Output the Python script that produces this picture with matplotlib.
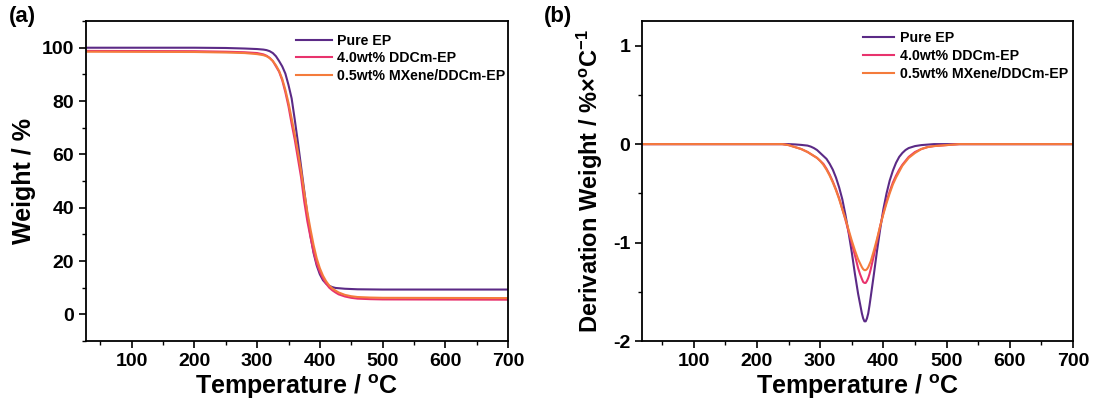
import numpy as np
import matplotlib
matplotlib.use("Agg")
import matplotlib.pyplot as plt
from matplotlib.ticker import MultipleLocator

plt.rcParams['font.family'] = ['Liberation Sans', 'DejaVu Sans']
plt.rcParams['font.weight'] = 'bold'
plt.rcParams['axes.labelweight'] = 'bold'
plt.rcParams['axes.unicode_minus'] = False
plt.rcParams['mathtext.fontset'] = 'custom'
plt.rcParams['mathtext.bf'] = 'Liberation Sans:bold'
plt.rcParams['mathtext.rm'] = 'Liberation Sans:bold'
plt.rcParams['mathtext.default'] = 'bf'

### --- data
labels = ['Pure EP', '4.0wt% DDCm-EP', '0.5wt% MXene/DDCm-EP']
colors = ['#5B2A86', '#E8336D', '#F47B3C']

# (a) TGA
T_tga = [25, 200, 250, 280, 300, 310, 315, 320, 325, 330, 335, 340, 345, 350, 355,
         360, 365, 370, 375, 380, 385, 390, 395, 400, 405, 410, 415, 420, 425, 430,
         440, 450, 460, 480, 500, 700]
w_pure = [100.0, 100.0, 99.9, 99.7, 99.5, 99.3, 99.1, 98.7, 98.0, 96.8, 95.0, 93.0, 90.3, 86.0, 81.0,
          73.0, 64.5, 55.5, 46.5, 37.5, 29.5, 23.0, 18.3, 15.0, 12.8, 11.5, 10.7, 10.2, 9.9, 9.8,
          9.6, 9.5, 9.4, 9.35, 9.3, 9.3]
w_ddcm = [98.8, 98.7, 98.5, 98.3, 98.0, 97.5, 97.0, 96.2, 95.0, 93.0, 91.0, 87.8, 83.3, 78.0, 71.5,
          65.5, 58.5, 51.5, 42.5, 35.0, 29.0, 23.5, 19.0, 16.0, 13.5, 11.5, 10.0, 9.0, 8.2, 7.5,
          6.7, 6.2, 5.9, 5.7, 5.6, 5.5]
w_mx = [98.5, 98.4, 98.2, 98.0, 97.6, 97.2, 96.8, 96.1, 95.0, 93.4, 91.3, 88.3, 84.2, 79.3, 73.5,
        67.5, 61.0, 54.0, 46.0, 38.5, 32.0, 26.0, 21.0, 17.3, 14.5, 12.4, 10.8, 9.7, 8.9, 8.2,
        7.3, 6.8, 6.5, 6.3, 6.2, 6.1]

# (b) DTG
T_dtg = [20, 240, 250, 260, 270, 280, 285, 290, 295, 300, 305, 310, 315, 320, 325, 330, 335,
         340, 345, 350, 355, 360, 363, 366, 368, 370, 372, 374, 376, 378, 380, 385, 390, 395, 400, 405, 410, 415,
         420, 425, 430, 435, 440, 450, 460, 470, 480, 500, 520, 700]
d_pure = [0, 0, 0, -0.003, -0.008, -0.015, -0.025, -0.04, -0.06, -0.09, -0.12, -0.15, -0.20, -0.26, -0.34, -0.44, -0.56,
          -0.72, -0.90, -1.10, -1.32, -1.52, -1.62, -1.72, -1.77, -1.80, -1.80, -1.77, -1.72, -1.64, -1.55, -1.32, -1.08, -0.86, -0.66, -0.50, -0.37, -0.27,
          -0.19, -0.13, -0.09, -0.06, -0.04, -0.02, -0.01, -0.005, 0, 0, 0, 0]
d_ddcm = [0, 0, -0.01, -0.03, -0.05, -0.08, -0.10, -0.12, -0.14, -0.17, -0.20, -0.25, -0.31, -0.38, -0.46, -0.55, -0.66,
          -0.77, -0.89, -1.01, -1.13, -1.26, -1.32, -1.37, -1.40, -1.41, -1.41, -1.39, -1.36, -1.32, -1.27, -1.13, -0.98, -0.83, -0.70, -0.58, -0.48, -0.39,
          -0.32, -0.26, -0.21, -0.17, -0.13, -0.08, -0.05, -0.03, -0.02, -0.01, 0, 0]
d_mx = [0, 0, -0.01, -0.03, -0.05, -0.08, -0.10, -0.12, -0.14, -0.17, -0.21, -0.26, -0.32, -0.39, -0.47, -0.56, -0.66,
        -0.76, -0.87, -0.98, -1.08, -1.17, -1.21, -1.25, -1.27, -1.28, -1.28, -1.27, -1.25, -1.22, -1.19, -1.08, -0.96, -0.83, -0.71, -0.60, -0.50, -0.41,
        -0.34, -0.28, -0.22, -0.18, -0.14, -0.09, -0.05, -0.03, -0.02, -0.01, 0, 0]

### --- plot
fig = plt.figure(figsize=(10.94, 4.05), dpi=100)
ax1 = fig.add_axes([0.0786, 0.158, 0.3857, 0.790])
ax2 = fig.add_axes([0.5868, 0.158, 0.394, 0.790])

for w, c, l in zip([w_pure, w_ddcm, w_mx], colors, labels):
	ax1.plot(T_tga, w, color=c, lw=1.5, label=l)
for d, c, l in zip([d_pure, d_ddcm, d_mx], colors, labels):
	ax2.plot(T_dtg, d, color=c, lw=1.5, label=l)

ax1.set_xlim(27, 700)
ax1.set_ylim(-10, 110)
ax1.yaxis.set_major_locator(MultipleLocator(20))
ax1.yaxis.set_minor_locator(MultipleLocator(10))
ax1.set_ylabel('Weight / %', fontsize=18, labelpad=4)

ax2.set_xlim(18, 700)
ax2.set_ylim(-2, 1.25)
ax2.yaxis.set_major_locator(MultipleLocator(1))
ax2.yaxis.set_minor_locator(MultipleLocator(0.5))
ax2.set_ylabel(r'Derivation Weight / %×$^{o}$C$^{-1}$', fontsize=17)
ax2.yaxis.set_label_coords(-0.085, 0.5)

for ax in (ax1, ax2):
	ax.xaxis.set_major_locator(MultipleLocator(100))
	ax.xaxis.set_minor_locator(MultipleLocator(50))
	ax.set_xlabel(r'Temperature / $^{o}$C', fontsize=18, labelpad=2)
	ax.tick_params(which='major', direction='out', length=5, width=1.2, labelsize=14)
	ax.tick_params(which='minor', direction='out', length=3, width=1.0)
	for s in ax.spines.values():
		s.set_linewidth(1.3)
	for t in ax.get_xticklabels() + ax.get_yticklabels():
		t.set_fontweight('bold')

ax1.legend(loc='upper left', bbox_to_anchor=(0.498, 0.96), frameon=False, fontsize=10.2,
	   handlelength=2.5, handletextpad=0.4, labelspacing=0.25, borderpad=0, borderaxespad=0)
ax2.legend(loc='upper left', bbox_to_anchor=(0.513, 0.97), frameon=False, fontsize=10.2,
	   handlelength=2.2, handletextpad=0.4, labelspacing=0.3, borderpad=0, borderaxespad=0)

fig.text(0.008, 0.945, '(a)', fontsize=16, fontweight='bold')
fig.text(0.497, 0.945, '(b)', fontsize=16, fontweight='bold')

fig.savefig('out.png', dpi=100)
